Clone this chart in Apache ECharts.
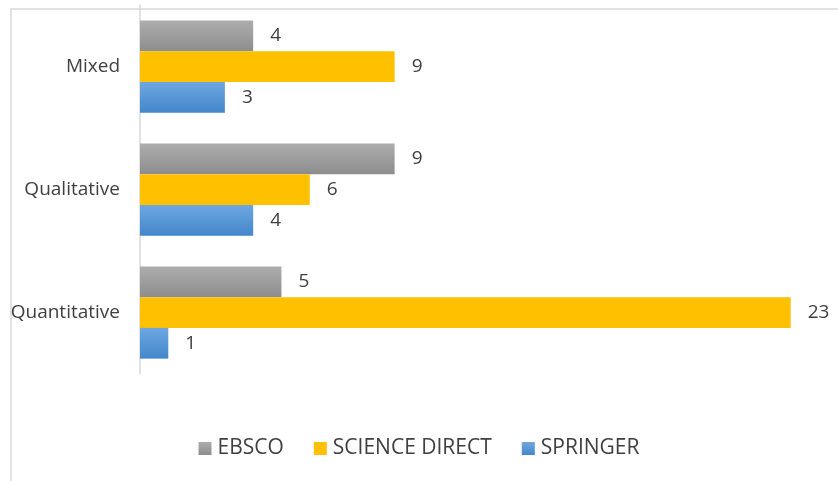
<!DOCTYPE html>
<html>
<head>
<meta charset="utf-8">
<script src="https://cdn.jsdelivr.net/npm/echarts@6/dist/echarts.min.js"></script>
<style>html,body{margin:0;padding:0;background:#fff;}#c{width:838px;height:481px;}</style>
</head>
<body>
<div id="c"></div>
<script>
const categories = ['Quantitative', 'Qualitative', 'Mixed'];
const ebsco = [5, 9, 4];
const scienceDirect = [23, 6, 9];
const springer = [1, 4, 3];
const legendOrder = ['EBSCO', 'SCIENCE DIRECT', 'SPRINGER'];

const chart = echarts.init(document.getElementById('c'));
const FONT = 'Open Sans';
const txt = '#404040';
function grad(top, bottom) {
  return new echarts.graphic.LinearGradient(0, 0, 0, 1, [
    { offset: 0, color: top }, { offset: 1, color: bottom }
  ]);
}
const labelCfg = { show: true, position: 'right', distance: 17, color: txt, fontSize: 19, fontFamily: FONT };
chart.setOption({
  animation: false,
  backgroundColor: '#ffffff',
  graphic: [{
    type: 'rect', shape: { x: 11, y: 9, width: 840, height: 480 },
    style: { fill: 'none', stroke: '#d9d9d9', lineWidth: 1.5 }, silent: true
  }],
  grid: { left: 140, top: 5, width: 679, height: 369, containLabel: false },
  legend: {
    data: legendOrder, top: 433, left: 'center',
    itemWidth: 13, itemHeight: 13, itemGap: 30, icon: 'rect',
    textStyle: { color: txt, fontSize: 21, fontFamily: FONT, padding: [0, 0, 0, 1] }
  },
  xAxis: {
    type: 'value', min: 0, max: 24,
    axisLine: { show: false }, axisTick: { show: false },
    axisLabel: { show: false }, splitLine: { show: false }
  },
  yAxis: {
    type: 'category', data: categories,
    axisLine: { show: true, lineStyle: { color: '#d9d9d9', width: 1.5 } },
    axisTick: { show: false },
    axisLabel: { color: txt, fontSize: 19, fontFamily: FONT, margin: 20 }
  },
  series: [
    { name: 'EBSCO', type: 'bar', data: ebsco, barGap: '0%', barCategoryGap: '25%',
      itemStyle: { color: grad('#adadad', '#8d8d8d') }, label: labelCfg },
    { name: 'SCIENCE DIRECT', type: 'bar', data: scienceDirect,
      itemStyle: { color: '#ffc000' }, label: labelCfg },
    { name: 'SPRINGER', type: 'bar', data: springer,
      itemStyle: { color: grad('#6ea7e0', '#4387cb') }, label: labelCfg }
  ]
});
</script>
</body>
</html>
